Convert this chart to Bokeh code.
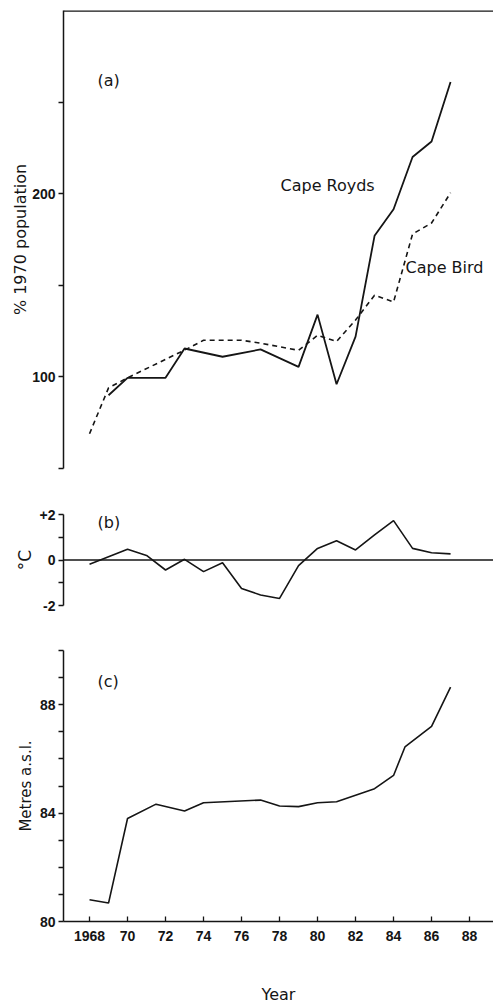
from bokeh.plotting import figure
from bokeh.layouts import column
from bokeh.models import Range1d, FixedTicker, Span, Label
from bokeh.embed import file_html
from bokeh.resources import INLINE

# ---- data ----
royds_years = [1969, 1970, 1972, 1973, 1975, 1977, 1979, 1980, 1981, 1982, 1983, 1984, 1985, 1986, 1987]
royds_pct = [90, 99.5, 99.5, 115.5, 111, 115, 105.5, 134, 96, 122, 177, 191.5, 220, 228.5, 261]

bird_years = [1968, 1969, 1970, 1973, 1974, 1976, 1977, 1979, 1980, 1981, 1982, 1983, 1984, 1985, 1986, 1987]
bird_pct = [69, 94, 99.5, 114.6, 120, 120, 118.4, 114.5, 122.7, 119.3, 131, 144.6, 140.9, 178, 184, 200.5]

temp_years = [1968, 1970, 1971, 1972, 1973, 1974, 1975, 1976, 1977, 1978, 1979, 1980, 1981, 1982, 1983, 1984, 1985, 1986, 1987]
temp_anom = [-0.19, 0.47, 0.2, -0.44, 0.03, -0.51, -0.12, -1.25, -1.54, -1.69, -0.25, 0.51, 0.85, 0.44, 1.1, 1.73, 0.51, 0.32, 0.27]

elev_years = [1968, 1969, 1970, 1971.5, 1973, 1974, 1977, 1978, 1979, 1980, 1981, 1982, 1983, 1984, 1984.6, 1986, 1987]
elev_m = [80.8, 80.68, 83.8, 84.33, 84.08, 84.38, 84.48, 84.26, 84.24, 84.38, 84.42, 84.66, 84.9, 85.39, 86.44, 87.2, 88.65]

x_ticks = [1968, 1970, 1972, 1974, 1976, 1978, 1980, 1982, 1984, 1986, 1988]
x_tick_labels = ["1968", "70", "72", "74", "76", "78", "80", "82", "84", "86", "88"]

INK = "#151515"
TICK_FONT = "Liberation Sans"
TEXT_FONT = "DejaVu Sans"

xr = Range1d(1966.63, 1989.26)


def style(p, yaxis_label, label_size="16px", label_standoff=0):
    p.outline_line_color = None
    p.xgrid.visible = False
    p.ygrid.visible = False
    p.background_fill_color = "white"
    p.border_fill_color = "white"
    for ax in p.yaxis:
        ax.axis_line_color = INK
        ax.axis_line_width = 1.5
        ax.major_tick_line_color = INK
        ax.minor_tick_line_color = INK
        ax.major_tick_line_width = 1.3
        ax.minor_tick_line_width = 1.3
        ax.major_tick_in = 0
        ax.major_tick_out = 5
        ax.minor_tick_in = 0
        ax.minor_tick_out = 5
        ax.major_label_text_font = TICK_FONT
        ax.major_label_text_font_style = "bold"
        ax.major_label_text_font_size = "14px"
        ax.major_label_text_color = INK
        ax.major_label_standoff = 3
        ax.axis_label = yaxis_label
        ax.axis_label_text_font = TEXT_FONT
        ax.axis_label_text_font_style = "normal"
        ax.axis_label_text_font_size = label_size
        ax.axis_label_text_color = INK
        ax.axis_label_standoff = label_standoff


# ---- panel (a) ----
p1 = figure(width=493, height=478, x_range=xr, y_range=Range1d(50, 300),
            output_backend="svg", toolbar_location=None, x_axis_location=None,
            min_border_left=63, min_border_right=0, min_border_top=10, min_border_bottom=10)
style(p1, "% 1970 population", "16px", -1)
p1.yaxis.ticker = FixedTicker(ticks=[100, 200], minor_ticks=[50, 150, 250])
p1.add_layout(Span(location=300, dimension="width", line_color=INK, line_width=2.5))
p1.line(royds_years, royds_pct, line_color=INK, line_width=1.8)
p1.line(bird_years, bird_pct, line_color=INK, line_width=1.6, line_dash="5 4")
for txt, x, y in [("(a)", 1968.42, 261.8), ("Cape Royds", 1978.05, 204.5), ("Cape Bird", 1984.63, 159.8)]:
    p1.add_layout(Label(x=x, y=y, text=txt, text_font=TEXT_FONT, text_font_size="16px",
                        text_color=INK, text_baseline="middle", text_align="left"))

# ---- panel (b) ----
p2 = figure(width=493, height=137, x_range=xr, y_range=Range1d(-2, 2),
            output_backend="svg", toolbar_location=None, x_axis_location=None,
            min_border_left=63, min_border_right=0, min_border_top=36, min_border_bottom=10)
style(p2, "°C", "17px", 2)
p2.yaxis.ticker = FixedTicker(ticks=[-2, 0, 2], minor_ticks=[-1, 1])
p2.yaxis.major_label_overrides = {2: "+2", 0: "0", -2: "-2"}
p2.add_layout(Span(location=0, dimension="width", line_color=INK, line_width=1.5))
p2.line(temp_years, temp_anom, line_color=INK, line_width=1.6)
p2.add_layout(Label(x=1968.42, y=1.63, text="(b)", text_font=TEXT_FONT, text_font_size="16px",
                    text_color=INK, text_baseline="middle", text_align="left"))

# ---- panel (c) ----
p3 = figure(width=493, height=391, x_range=xr, y_range=Range1d(80, 90),
            output_backend="svg", toolbar_location=None,
            min_border_left=63, min_border_right=0, min_border_top=35, min_border_bottom=79)
style(p3, "Metres a.s.l.", "15px", 2)
p3.yaxis.ticker = FixedTicker(ticks=[80, 84, 88], minor_ticks=[81, 82, 83, 85, 86, 87, 89, 90])
xa = p3.xaxis[0]
xa.ticker = FixedTicker(ticks=x_ticks, minor_ticks=[])
xa.major_label_overrides = {t: l for t, l in zip(x_ticks, x_tick_labels)}
xa.axis_line_color = INK
xa.axis_line_width = 1.5
xa.major_tick_line_color = INK
xa.major_tick_line_width = 1.3
xa.major_tick_in = 5
xa.major_tick_out = 0
xa.major_label_standoff = 9
xa.major_label_text_font = TICK_FONT
xa.major_label_text_font_style = "bold"
xa.major_label_text_font_size = "14px"
xa.major_label_text_color = INK
xa.axis_label = "Year"
xa.axis_label_text_font = TEXT_FONT
xa.axis_label_text_font_style = "normal"
xa.axis_label_text_font_size = "16px"
xa.axis_label_text_color = INK
xa.axis_label_standoff = 41
p3.line(elev_years, elev_m, line_color=INK, line_width=1.6)
p3.add_layout(Label(x=1968.42, y=88.87, text="(c)", text_font=TEXT_FONT, text_font_size="16px",
                    text_color=INK, text_baseline="middle", text_align="left"))

layout = column(p1, p2, p3, spacing=0)
open("out.html", "w").write(file_html(layout, INLINE))
